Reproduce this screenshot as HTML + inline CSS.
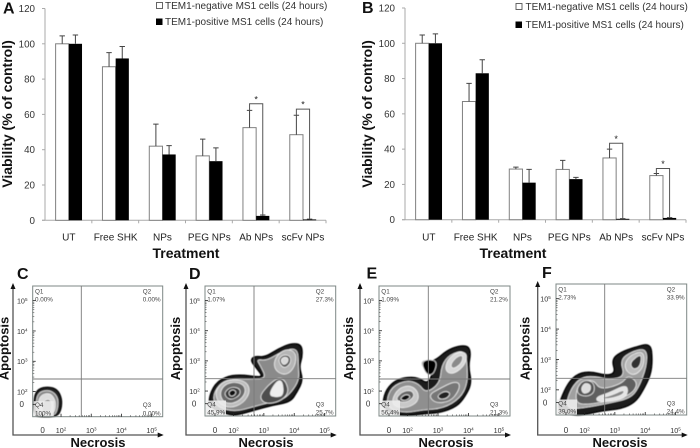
<!DOCTYPE html>
<html>
<head>
<meta charset="utf-8">
<style>
html,body{margin:0;padding:0;background:#fff;}
svg{display:block;font-family:"Liberation Sans",Arial,sans-serif;}
</style>
</head>
<body>
<svg id="figure" width="700" height="448" viewBox="0 0 700 448" xmlns="http://www.w3.org/2000/svg">
<defs><filter id="soft" x="-5%" y="-5%" width="110%" height="110%"><feGaussianBlur stdDeviation="0.5"/></filter></defs>
<rect width="700" height="448" fill="#fff"/>

<text x="3" y="13.5" font-size="16" font-weight="bold" fill="#111">A</text>
<text x="362" y="13" font-size="16" font-weight="bold" fill="#111">B</text>
<text x="17" y="279" font-size="16" font-weight="bold" fill="#111">C</text>
<text x="189" y="279" font-size="16" font-weight="bold" fill="#111">D</text>
<text x="366.5" y="278.5" font-size="16" font-weight="bold" fill="#111">E</text>
<text x="542" y="278" font-size="16" font-weight="bold" fill="#111">F</text>

<text transform="translate(12,114) rotate(-90)" text-anchor="middle" font-size="14" font-weight="bold" fill="#111">Viability (% of control)</text>
<text transform="translate(372,114) rotate(-90)" text-anchor="middle" font-size="14" font-weight="bold" fill="#111">Viability (% of control)</text>
<text x="186" y="258" text-anchor="middle" font-size="14" font-weight="bold" fill="#111">Treatment</text>
<text x="513" y="258" text-anchor="middle" font-size="14" font-weight="bold" fill="#111">Treatment</text>

<g>
<rect x="156.5" y="2.5" width="6" height="6" fill="#fff" stroke="#555" stroke-width="0.9"/>
<text x="165" y="9" font-size="10" fill="#333">TEM1-negative MS1 cells (24 hours)</text>
<rect x="156" y="18.5" width="6.5" height="6.5" fill="#000"/>
<text x="165" y="25" font-size="10" fill="#333">TEM1-positive MS1 cells (24 hours)</text>
</g>
<g>
<rect x="516" y="3.5" width="6" height="6" fill="#fff" stroke="#555" stroke-width="0.9"/>
<text x="525.5" y="10" font-size="10" fill="#333">TEM1-negative MS1 cells (24 hours)</text>
<rect x="515.5" y="21.5" width="6.5" height="6.5" fill="#000"/>
<text x="525.5" y="28" font-size="10" fill="#333">TEM1-positive MS1 cells (24 hours)</text>
</g>

<text x="98" y="447" text-anchor="middle" font-size="13" font-weight="bold" fill="#111">Necrosis</text>
<text x="266" y="447" text-anchor="middle" font-size="13" font-weight="bold" fill="#111">Necrosis</text>
<text x="446" y="447" text-anchor="middle" font-size="13" font-weight="bold" fill="#111">Necrosis</text>
<text x="620" y="447" text-anchor="middle" font-size="13" font-weight="bold" fill="#111">Necrosis</text>
<text transform="translate(8.5,348.5) rotate(-90)" text-anchor="middle" font-size="13" font-weight="bold" fill="#111">Apoptosis</text>
<text transform="translate(180,348.5) rotate(-90)" text-anchor="middle" font-size="13" font-weight="bold" fill="#111">Apoptosis</text>
<text transform="translate(353,348.5) rotate(-90)" text-anchor="middle" font-size="13" font-weight="bold" fill="#111">Apoptosis</text>
<text transform="translate(529.5,348.5) rotate(-90)" text-anchor="middle" font-size="13" font-weight="bold" fill="#111">Apoptosis</text>

<g id="bar-charts"></g>
<g id="flow-plots"></g>
</svg>

<script>
/* ---------- bar chart data ---------- */
const categories = ["UT", "Free SHK", "NPs", "PEG NPs", "Ab NPs", "scFv NPs"];
const yTickValues = [0, 20, 40, 60, 80, 100, 120];

const chartANegative = [100, 87, 42, 36.5, 52.5, 48.5];
const chartANegativeUpper = [104.5, 95, 54.5, 46, 62.3, 59.5];
const chartAPositive = [100, 91.7, 37.3, 33.5, 2.5, 0.5];
const chartAPositiveUpper = [105, 98.5, 42.3, 41, 3, 0.7];
const chartABracketTops = [null, null, null, null, 66, 63];

const chartBNegative = [100, 67, 28.7, 28.5, 35, 25];
const chartBNegativeUpper = [104.7, 77.3, 29.8, 33.6, 40, 26.2];
const chartBPositive = [100, 83, 21, 23, 0.5, 1];
const chartBPositiveUpper = [105.3, 90.7, 28.5, 24, 0.6, 1.2];
const chartBBracketTops = [null, null, null, null, 43.3, 29];

/* ---------- flow cytometry data ---------- */
const logTickLabels = ["0", "2", "3", "4", "5"];
const logTickDecadesX = [-0.61, 0, 1, 2, 3];
const logTickDecadesY = [-0.42, 0, 1, 2, 3];
const minorFractions = [0.3, 0.48, 0.6, 0.7, 0.78, 0.85, 0.9, 0.95];

const quadrantNames = ["Q1", "Q2", "Q3", "Q4"];
const panelCPercents = ["0.00%", "0.00%", "0.00%", "100%"];
const panelDPercents = ["1.07%", "27.3%", "25.7%", "45.9%"];
const panelEPercents = ["1.09%", "21.2%", "21.3%", "56.4%"];
const panelFPercents = ["2.73%", "33.9%", "24.4%", "39.0%"];

/* contour rings in channel units of each panel's own axis domain */
const panelCRings = [
 [[103,465],[102,410],[115,386],[145,380],[172,388],[185,415],[184,445],[172,470],[120,470]],
 [[110,465],[108,415],[120,395],[145,390],[165,400],[175,420],[172,450],[162,468]],
 [[116,464],[114,420],[128,402],[148,400],[160,410],[168,430],[162,464]],
 [[126,462],[126,428],[145,414],[157,430],[152,462]]
];
const panelCShades = ["#222", "#888", "#ddd", "#999"];

const panelDRings = [
 [[100,418],[120,370],[160,347],[205,345],[238,350],[264,350],[245,325],[226,300],[240,288],[270,292],[310,266],[350,250],[380,254],[382,290],[372,320],[384,360],[366,396],[346,426],[290,436],[240,450],[180,467],[150,460],[110,445]],
 [[112,415],[130,375],[165,356],[230,358],[275,355],[255,315],[245,298],[275,302],[320,275],[368,262],[370,320],[372,360],[350,395],[325,418],[280,428],[235,440],[180,455],[130,442]],
 [[120,397],[140,367],[175,357],[215,365],[226,395],[205,430],[165,445],[130,430]],
 [[135,395],[150,373],[180,365],[208,375],[212,400],[190,425],[160,432],[140,420]],
 [[148,397],[168,380],[195,385],[196,405],[170,420],[153,412]],
 [[160,397],[172,388],[184,394],[180,406],[166,410]],
 [[252,410],[280,375],[310,352],[332,362],[342,400],[312,426],[270,432]],
 [[280,405],[305,362],[322,362],[326,405],[305,412]],
 [[295,310],[310,280],[340,266],[364,280],[360,320],[335,346],[305,336]],
 [[308,300],[325,283],[347,288],[347,312],[325,327]],
 [[316,300],[328,290],[340,295],[338,308],[325,316]]
];
const panelDShades = ["#1a1a1a", "#8a8a8a", "#bdbdbd", "#6a6a6a", "#3a3a3a", "#0a0a0a", "#4d4d4d", "#eeeeee", "#b5b5b5", "#5a5a5a", "#d8d8d8"];

const panelERings = [
 [[97,440],[105,395],[130,365],[165,352],[205,353],[232,372],[250,340],[218,322],[218,302],[240,305],[260,298],[290,272],[325,258],[355,258],[362,280],[355,320],[365,370],[345,410],[320,440],[270,458],[230,460],[170,467],[130,462]],
 [[218,304],[236,298],[262,304],[252,342],[232,346],[218,322]],
 [[108,425],[125,380],[170,361],[205,370],[228,400],[270,370],[275,315],[300,283],[345,270],[352,320],[352,372],[330,415],[280,445],[215,450],[170,458],[125,450]],
 [[125,420],[145,385],[180,375],[205,395],[205,425],[170,445],[135,440]],
 [[135,420],[155,395],[185,390],[195,410],[165,430]],
 [[148,416],[168,401],[184,410],[165,424]],
 [[235,405],[270,385],[310,365],[330,370],[325,395],[300,425],[255,430]],
 [[262,406],[285,392],[303,400],[290,416],[268,418]],
 [[285,325],[295,295],[325,275],[352,280],[345,315],[315,340],[295,340]],
 [[300,315],[320,290],[340,285],[335,310],[310,328]]
];
const panelEShades = ["#1a1a1a", "#000", "#8f8f8f", "#c8c8c8", "#666", "#111", "#777", "#222", "#d8d8d8", "#8a8a8a"];

const panelFRings = [
 [[106,420],[130,368],[160,340],[200,335],[240,347],[272,340],[260,300],[285,278],[330,262],[377,250],[382,300],[377,345],[352,395],[330,427],[290,446],[230,452],[165,467],[130,462],[100,450]],
 [[125,420],[145,375],[175,350],[215,350],[250,360],[300,350],[285,300],[320,275],[365,265],[365,320],[340,385],[315,415],[250,430],[170,445],[130,445]],
 [[150,420],[160,370],[205,358],[225,390],[290,372],[310,345],[340,370],[318,405],[250,424],[170,436]],
 [[298,310],[320,283],[357,274],[357,320],[330,347],[305,337]],
 [[314,310],[335,290],[350,285],[346,320],[325,330]],
 [[155,385],[175,360],[205,365],[210,395],[190,410],[160,405]],
 [[168,385],[180,368],[198,375],[195,395],[175,402]],
 [[215,410],[250,400],[300,375],[310,390],[300,415],[250,425],[215,425]],
 [[225,414],[260,406],[298,388],[296,404],[250,418]]
];
const panelFShades = ["#1a1a1a", "#a0a0a0", "#5f5f5f", "#bdbdbd", "#333", "#555", "#dddddd", "#e4e4e4", "#888"];

/* ---------- helpers ---------- */
const SVGNS = "http://www.w3.org/2000/svg";
function mk(tag, attrs, parent, txt) {
  const el = document.createElementNS(SVGNS, tag);
  for (const k in attrs) el.setAttribute(k, attrs[k]);
  if (txt !== undefined) el.textContent = txt;
  parent.appendChild(el);
  return el;
}
function linear(d0, d1, r0, r1) {
  return function (v) { return r0 + (v - d0) * (r1 - r0) / (d1 - d0); };
}

/* ---------- bar charts ---------- */
function drawBarChart(root, id, layout, neg, negUp, pos, posUp, bracketTops) {
  const g = mk("g", {}, root);
  
  
  const y = linear(0, 120, layout.bottom, layout.top);
  const band = (layout.right - layout.left) / categories.length;
  const cx = function (i) { return layout.left + (i + 0.5) * band + 0.4; };
  const bw = 13.2;

  const yAxis = mk("line", {x1: layout.left, x2: layout.left, y1: y(120), y2: y(0), stroke: "#aaa", "stroke-width": 1}, g);
  
  
  const xAxis = mk("line", {x1: layout.left - 3, x2: layout.right, y1: y(0), y2: y(0), stroke: "#aaa", "stroke-width": 1}, g);
  
  

  yTickValues.forEach(function (v) {
    const tick = mk("line", {x1: layout.left - 3, x2: layout.left, y1: y(v), y2: y(v), stroke: "#aaa", "stroke-width": 1}, g);
    
    
    const label = mk("text", {x: layout.left - 10, y: y(v) + 3.5, "text-anchor": "end", "font-size": 9.8, fill: "#333"}, g, String(v));
    
    
  });

  categories.forEach(function (name, i) {
    const c = cx(i);
    const tick = mk("line", {x1: layout.left + (i + 1) * band, x2: layout.left + (i + 1) * band, y1: y(0), y2: y(0) + 3, stroke: "#aaa", "stroke-width": 1}, g);
    
    

    const label = mk("text", {x: c, y: 240.5, "text-anchor": "middle", "font-size": 10, fill: "#222"}, g, name);
    
    

    const barN = mk("rect", {x: c - bw, y: y(neg[i]), width: bw, height: y(0) - y(neg[i]), fill: "#fff", stroke: "#808080", "stroke-width": 1}, g);
    
    
    const barP = mk("rect", {x: c, y: y(pos[i]), width: bw, height: y(0) - y(pos[i]), fill: "#000"}, g);
    
    

    const nx = c - bw / 2, px = c + bw / 2;
    const errN = mk("path", {d: "M" + nx + " " + y(neg[i]) + "V" + y(negUp[i]) + "M" + (nx - 2.7) + " " + y(negUp[i]) + "H" + (nx + 2.7), stroke: "#444", fill: "none", "stroke-width": 1}, g);
    
    
    const errP = mk("path", {d: "M" + px + " " + y(pos[i]) + "V" + y(posUp[i]) + "M" + (px - 2.7) + " " + y(posUp[i]) + "H" + (px + 2.7), stroke: "#444", fill: "none", "stroke-width": 1}, g);
    
    

    if (bracketTops[i] !== null) {
      const top = y(bracketTops[i]);
      const br = mk("path", {d: "M" + nx + " " + y(negUp[i]) + "V" + top + "H" + px + "V" + y(pos[i]), stroke: "#555", fill: "none", "stroke-width": 1}, g);
      
      
      const star = mk("text", {x: c, y: top - 1.5, "text-anchor": "middle", "font-size": 9, fill: "#222"}, g, "*");
      
      
    }
  });
}

/* ---------- flow plots ---------- */
function smoothPath(points, sx, sy) {
  const n = points.length;
  const mid = function (a, b) { return [(sx(a[0]) + sx(b[0])) / 2, (sy(a[1]) + sy(b[1])) / 2]; };
  const m0 = mid(points[n - 1], points[0]);
  let d = "M" + m0[0].toFixed(1) + " " + m0[1].toFixed(1);
  for (let i = 0; i < n; i++) {
    const m = mid(points[i], points[(i + 1) % n]);
    d += "Q" + sx(points[i][0]).toFixed(1) + " " + sy(points[i][1]).toFixed(1) + " " + m[0].toFixed(1) + " " + m[1].toFixed(1);
  }
  return d + "Z";
}

function drawFlowPlot(root, id, f, percents, rings, shades) {
  const g = mk("g", {}, root);
  
  
  const w = f.right - f.left, h = f.bottom - f.top;
  const sx = linear(f.domainX[0], f.domainX[1], f.left, f.right);
  const sy = linear(f.domainY[0], f.domainY[1], f.top, f.bottom);
  /* log axes: decade 0 is 10^2, decade 3 is 10^5 */
  const decadeX = linear(0, 3, f.left + w * 0.218, f.left + w * 0.915);
  const decadeY = linear(0, 3, f.top + h * 0.808, f.top + h * 0.112);

  const contours = mk("g", {filter: "url(#soft)"}, g);
  
  
  rings.forEach(function (ring, i) {
    const path = mk("path", {d: smoothPath(ring, sx, sy), fill: shades[i], stroke: i === 0 ? "#000" : "#f4f4f4", "stroke-width": i === 0 ? 1.4 : 0.7}, contours);
    
    
  });

  const box = mk("rect", {x: f.left + 1, y: f.bottom - 15.5, width: 20, height: 15, fill: "#eee", opacity: 0.88}, g);
  
  

  const frame = mk("rect", {x: f.left, y: f.top, width: w, height: h, fill: "none", stroke: "#7d8785", "stroke-width": 1}, g);
  
  
  const vGate = mk("line", {x1: f.gateX, x2: f.gateX, y1: f.top, y2: f.bottom, stroke: "#7a7a7a", "stroke-width": 0.9}, g);
  
  
  const hGate = mk("line", {x1: f.left, x2: f.right, y1: f.gateY, y2: f.gateY, stroke: "#7a7a7a", "stroke-width": 0.9}, g);
  
  

  const axes = mk("path", {d: "M" + f.axisX + " " + (f.top - 1) + "V" + f.axisY + "H" + (f.right - 1), fill: "none", stroke: "#555", "stroke-width": 1.3}, g);
  
  
  const headY = mk("path", {d: "M" + f.axisX + " " + (f.top - 3) + "l-2.5 6h5z", fill: "#111"}, g);
  
  
  const headX = mk("path", {d: "M" + (f.right + 1) + " " + f.axisY + "l-6 -2.5v5z", fill: "#111"}, g);
  
  

  logTickLabels.forEach(function (text, i) {
    const tx = decadeX(logTickDecadesX[i]), ty = decadeY(logTickDecadesY[i]);
    const tickX = mk("line", {x1: tx, x2: tx, y1: f.bottom, y2: f.bottom - 3, stroke: "#222", "stroke-width": 0.8}, g);
    
    
    const tickY = mk("line", {x1: f.left, x2: f.left + 3, y1: ty, y2: ty, stroke: "#222", "stroke-width": 0.8}, g);
    
    
    if (i > 0 && i < logTickLabels.length - 1) {
      minorFractions.forEach(function (fr) {
        const mx = mk("line", {x1: decadeX(logTickDecadesX[i] + fr), x2: decadeX(logTickDecadesX[i] + fr), y1: f.bottom, y2: f.bottom - 1.6, stroke: "#333", "stroke-width": 0.5}, g);
        
        
        const my = mk("line", {x1: f.left, x2: f.left + 1.6, y1: decadeY(logTickDecadesY[i] + fr), y2: decadeY(logTickDecadesY[i] + fr), stroke: "#333", "stroke-width": 0.5}, g);
        
        
      });
    }
    const isZero = text === "0";
    const lx = mk("text", {x: tx, y: 433, "text-anchor": "middle", "font-size": isZero ? 8 : 7.2, fill: "#333"}, g);
    
    
    const ly = mk("text", {x: f.left - 5.2 - (isZero ? 3.5 : 0), y: ty + 2.8, "text-anchor": "end", "font-size": isZero ? 8 : 7.2, fill: "#333"}, g);
    
    
    [lx, ly].forEach(function (el) {
      if (isZero) {
        el.textContent = "0";
      } else {
        mk("tspan", {}, el, "10");
        mk("tspan", {dy: -2.5, "font-size": 4.6}, el, text);
      }
    });
  });

  const anchors = [
    {x: f.left + 2.3, y1: f.top + 7.3, y2: f.top + 15.6},
    {x: f.right - 20, y1: f.top + 7.3, y2: f.top + 15.6},
    {x: f.right - 20, y1: f.bottom - 9.6, y2: f.bottom - 1.4},
    {x: f.left + 2.3, y1: f.bottom - 9.6, y2: f.bottom - 1.4}
  ];
  quadrantNames.forEach(function (q, i) {
    const qn = mk("text", {x: anchors[i].x, y: anchors[i].y1, "font-size": 6.3, fill: "#444"}, g, q);
    
    
    const qp = mk("text", {x: anchors[i].x, y: anchors[i].y2, "font-size": 6.3, fill: "#444"}, g, percents[i]);
    
    
  });
}

const barRoot = document.getElementById("bar-charts");
drawBarChart(barRoot, "a", {left: 45, right: 326, top: 8.5, bottom: 220.3}, chartANegative, chartANegativeUpper, chartAPositive, chartAPositiveUpper, chartABracketTops);
drawBarChart(barRoot, "b", {left: 405, right: 686, top: 8, bottom: 219.7}, chartBNegative, chartBNegativeUpper, chartBPositive, chartBPositiveUpper, chartBBracketTops);

const flowRoot = document.getElementById("flow-plots");
drawFlowPlot(flowRoot, "c", {left: 32.7, right: 162.7, top: 286, bottom: 416.7, gateX: 81.3, gateY: 379, axisX: 13, axisY: 435, domainX: [98, 488], domainY: [78, 470]}, panelCPercents, panelCRings, panelCShades);
drawFlowPlot(flowRoot, "d", {left: 205, right: 335.7, top: 286, bottom: 416, gateX: 254, gateY: 378.7, axisX: 186, axisY: 435, domainX: [90, 482], domainY: [78, 468]}, panelDPercents, panelDRings, panelDShades);
drawFlowPlot(flowRoot, "e", {left: 379, right: 510, top: 286, bottom: 416, gateX: 428.3, gateY: 379, axisX: 360, axisY: 435, domainX: [87, 480], domainY: [78, 468]}, panelEPercents, panelERings, panelEShades);
drawFlowPlot(flowRoot, "f", {left: 556, right: 686.7, top: 284, bottom: 415, gateX: 604.7, gateY: 378.3, axisX: 537.7, axisY: 435, domainX: [93, 485], domainY: [73, 465]}, panelFPercents, panelFRings, panelFShades);
</script>
</body>
</html>
